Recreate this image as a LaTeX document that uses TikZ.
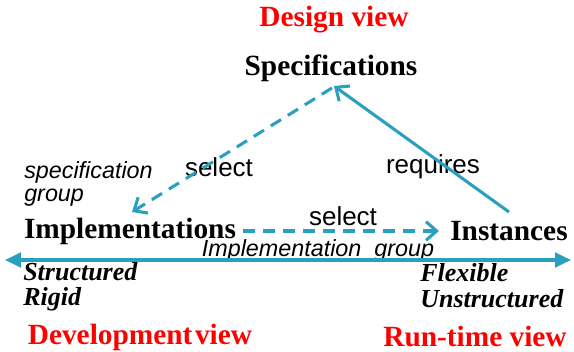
\documentclass[tikz,border=0pt]{standalone}
\usepackage{fontspec}
\setmainfont{Liberation Serif}
\setsansfont{Liberation Sans}
\usetikzlibrary{arrows.meta}
\definecolor{teal1}{RGB}{43,160,190}
\definecolor{redv}{RGB}{255,0,0}
\tikzset{
  big/.style={font=\fontsize{22}{24}\selectfont\bfseries, inner sep=0pt},
  view/.style={big, text=redv},
  prop/.style={font=\fontsize{19.5}{22}\selectfont\bfseries\itshape, inner sep=0pt, anchor=west},
  lab/.style={font=\sffamily\fontsize{19.5}{22}\selectfont, inner sep=0pt},
  grp/.style={font=\sffamily\itshape\fontsize{17.5}{20}\selectfont, inner sep=0pt},
  conn/.style={draw=teal1, line width=2.3pt},
  dashline/.style={conn, dash pattern=on 9pt off 6pt},
  openhead/.style={-{Straight Barb[length=8pt,width=14pt,line width=2.3pt]}},
  fathead/.style={{Triangle[length=12pt,width=11pt]}-{Triangle[length=12pt,width=11pt]}}
}
\begin{document}
\begin{tikzpicture}[x=0.75pt,y=-0.75pt]
\useasboundingbox (0,0) rectangle (574,352);
\node[view] (design) at (334,20) {Design view};
\node[big] (spec) at (331,68) {Specifications};
\node[big] (impl) at (130,231) {Implementations};
\node[big] (inst) at (509,231) {Instances};
\node[view] (dev) at (140,337) {Development\hspace{2pt}view};
\node[view] (run) at (475,337) {Run-time view};
\node[lab] (sel1) at (219,167) {select};
\node[lab] (req) at (433,167) {requires};
\node[lab] (sel2) at (343,216) {select};
\node[grp, anchor=west] (sg1) at (24,172) {specification};
\node[grp, anchor=west] (sg2) at (24,198) {group};
\node[grp] (ig) at (318,250) {Implementation\ \ group};
\node[prop] (str) at (23,272) {Structured};
\node[prop] (rig) at (23,299) {Rigid};
\node[prop] (flex) at (420,273) {Flexible};
\node[prop] (uns) at (420,299) {Unstructured};
\coordinate (apexA) at (332,88);
\coordinate (apexB) at (334,86);
\coordinate (implTop) at (132,212);
\coordinate (instTop) at (509,212);
\coordinate (implR) at (243,231);
\coordinate (instL) at (439,231);
\coordinate (leftEnd) at (5,260);
\coordinate (rightEnd) at (571,260);
\draw[dashline, openhead] (apexA) -- (implTop);
\draw[conn, openhead] (instTop) -- (apexB);
\draw[dashline, openhead] (implR) -- (instL);
\draw[conn, fathead, fill=teal1] (leftEnd) -- (rightEnd);
\end{tikzpicture}
\end{document}
